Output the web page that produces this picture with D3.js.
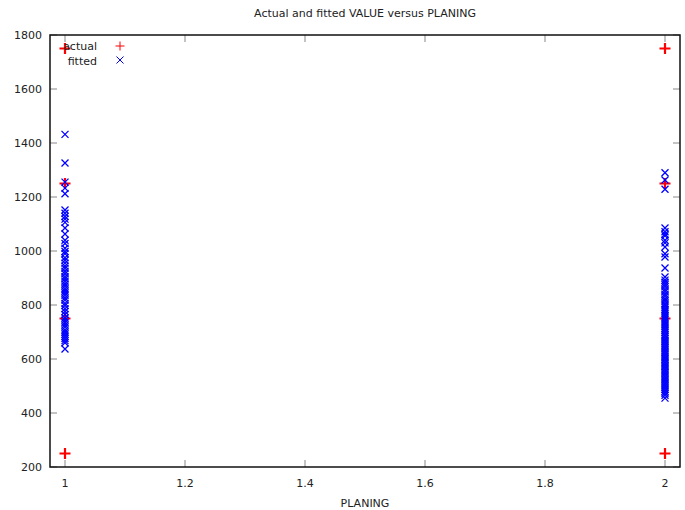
<!DOCTYPE html>
<html>
<head>
<meta charset="utf-8">
<script src="https://cdn.jsdelivr.net/npm/d3@7"></script>
<style>
  body { margin: 0; background: #fff; }
  svg text { font-family: "DejaVu Sans", Verdana, sans-serif; font-size: 11px; fill: #222; }
</style>
</head>
<body>
<div id="chart"></div>
<script>
// actual VALUE (red +)
const actualPlaning = [1, 1, 1, 1, 2, 2, 2, 2];
const actualValue = [1750, 1250, 750, 250, 1750, 1250, 750, 250];

// fitted VALUE (blue x), PLANING = 1
const fitted1 = [1432, 1326, 1255, 1233, 1212, 1152, 1140, 1128, 1118, 1106, 1085, 1063,
  1040, 1028, 1010, 998, 990, 975, 966, 955, 944, 936, 925, 916, 905, 897, 888, 878,
  870, 860, 852, 844, 836, 826, 818, 806, 798, 786, 776, 765, 752, 744, 735, 726,
  718, 708, 700, 692, 684, 676, 668, 660, 637];

// fitted VALUE (blue x), PLANING = 2
const fitted2 = [1290, 1263, 1229, 1085, 1071, 1062, 1056, 1040, 1030, 1015, 990, 978,
  937, 904, 892, 884, 876, 868, 858, 850, 840, 832, 822, 815, 806, 800, 792, 784,
  778, 770, 762, 755, 748, 740, 733, 726, 719, 712, 705, 698, 690, 684, 677, 670,
  664, 657, 650, 643, 637, 630, 624, 617, 610, 604, 597, 590, 584, 577, 571, 564,
  558, 551, 545, 538, 532, 525, 519, 512, 506, 500, 494, 487, 480, 473, 466, 455];

const xTicks = [1, 1.2, 1.4, 1.6, 1.8, 2];
const yTicks = [200, 400, 600, 800, 1000, 1200, 1400, 1600, 1800];

const W = 685, H = 510,
  pl = 50, pr = 680, pt = 35, pb = 467;

const svg = d3.select("#chart").append("svg")
  .attr("width", W).attr("height", H);

const x = d3.scaleLinear().domain([0.975, 2.025]).range([pl, pr]);
const y = d3.scaleLinear().domain([200, 1800]).range([pb, pt]);

// ticks (mirrored on all sides, pointing inward)
const tickLen = 7;
const tk = svg.append("g").attr("stroke", "#888").attr("stroke-width", 1);
xTicks.forEach(v => {
  tk.append("line").attr("x1", x(v)).attr("x2", x(v)).attr("y1", pb).attr("y2", pb - tickLen);
  tk.append("line").attr("x1", x(v)).attr("x2", x(v)).attr("y1", pt).attr("y2", pt + tickLen);
});
yTicks.forEach(v => {
  tk.append("line").attr("x1", pl).attr("x2", pl + tickLen).attr("y1", y(v)).attr("y2", y(v));
  tk.append("line").attr("x1", pr).attr("x2", pr - tickLen).attr("y1", y(v)).attr("y2", y(v));
});

svg.append("g").selectAll("text").data(xTicks).join("text")
  .attr("x", d => x(d)).attr("y", pb + 20)
  .attr("text-anchor", "middle")
  .text(d => d);

svg.append("g").selectAll("text").data(yTicks).join("text")
  .attr("x", pl - 8).attr("y", d => y(d) + 4)
  .attr("text-anchor", "end")
  .text(d => d);

// frame
svg.append("rect")
  .attr("x", pl).attr("y", pt)
  .attr("width", pr - pl).attr("height", pb - pt)
  .attr("fill", "none").attr("stroke", "#111").attr("stroke-width", 1.5);

svg.append("text").attr("x", (pl + pr) / 2).attr("y", 17)
  .attr("text-anchor", "middle").text("Actual and fitted VALUE versus PLANING");
svg.append("text").attr("x", (pl + pr) / 2).attr("y", 507)
  .attr("text-anchor", "middle").text("PLANING");

const plus = (g, cx, cy, r, col, sw) => {
  g.append("path")
    .attr("d", `M${cx - r},${cy}H${cx + r}M${cx},${cy - r}V${cy + r}`)
    .attr("stroke", col).attr("stroke-width", sw).attr("fill", "none");
};
const cross = (g, cx, cy, r, col, sw) => {
  g.append("path")
    .attr("d", `M${cx - r},${cy - r}L${cx + r},${cy + r}M${cx - r},${cy + r}L${cx + r},${cy - r}`)
    .attr("stroke", col).attr("stroke-width", sw).attr("fill", "none");
};

const marks = svg.append("g");
actualValue.forEach((v, i) => plus(marks, x(actualPlaning[i]), y(v), 5.5, "#f00", 2.2));
fitted1.forEach(v => cross(marks, x(1), y(v), 3.5, "#00f", 1.3));
fitted2.forEach(v => cross(marks, x(2), y(v), 3.5, "#00f", 1.3));

// legend
const lg = svg.append("g");
lg.append("text").attr("x", 97).attr("y", 50).attr("text-anchor", "end").text("actual");
lg.append("text").attr("x", 97).attr("y", 65).attr("text-anchor", "end").text("fitted");
plus(lg, 120, 46, 4.5, "#f00", 1);
cross(lg, 120, 60, 3.5, "#00f", 1);
</script>
</body>
</html>
